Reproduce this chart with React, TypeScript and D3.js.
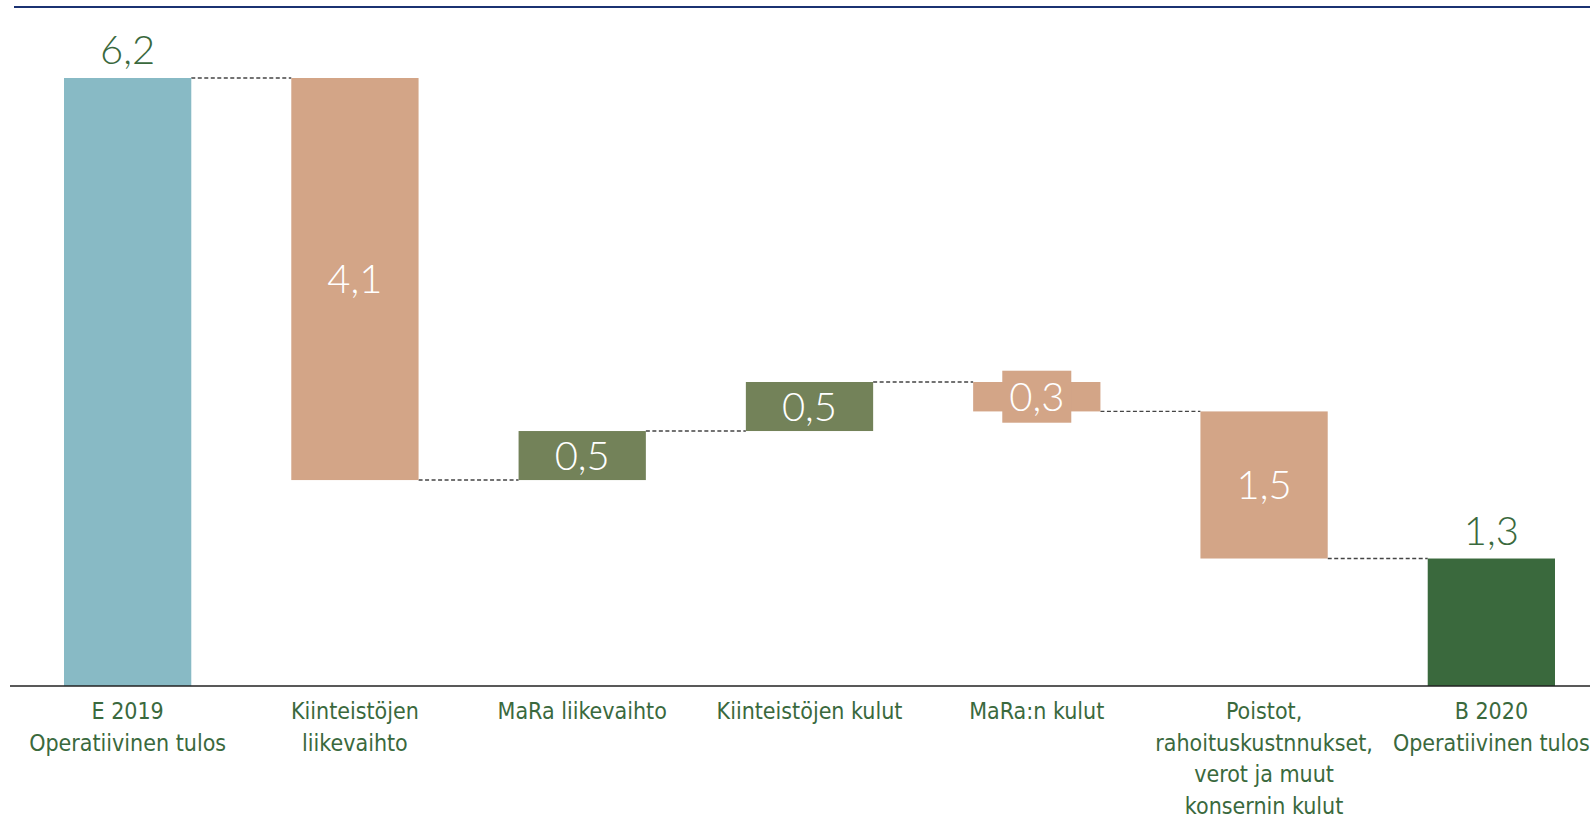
import React from "react";
import * as d3 from "d3";

// Waterfall: operating result bridge from E 2019 to B 2020 (M€)
const categories: string[][] = [
  ["E 2019", "Operatiivinen tulos"],
  ["Kiinteistöjen", "liikevaihto"],
  ["MaRa liikevaihto"],
  ["Kiinteistöjen kulut"],
  ["MaRa:n kulut"],
  ["Poistot,", "rahoituskustnnukset,", "verot ja muut", "konsernin kulut"],
  ["B 2020", "Operatiivinen tulos"],
];
// kind: total bars start from zero, deltas float on the running total
const kinds = ["total", "delta", "delta", "delta", "delta", "delta", "total"];
const values = [6.2, -4.1, 0.5, 0.5, -0.3, -1.5, 1.3];

const W = 1590;
const H = 822;
const AXIS_Y = 686;
const FONT = "'Liberation Sans Narrow', 'DejaVu Sans Condensed', Roboto, sans-serif";
const NUM_FONT = "Lato, 'Open Sans', sans-serif";

const COLORS = {
  start: "#88bac5",
  down: "#d3a587",
  up: "#738259",
  end: "#3a693d",
  text: "#3a693d",
};

export default function App() {
  const x = d3
    .scaleBand<number>()
    .domain(d3.range(categories.length))
    .range([64, 1555])
    .paddingInner(0.44)
    .paddingOuter(0);
  const y = d3.scaleLinear().domain([0, 6.2]).range([AXIS_Y, 78]);

  // running totals
  let run = 0;
  const bars = values.map((v, i) => {
    let lo: number, hi: number, fill: string;
    if (kinds[i] === "total") {
      lo = 0;
      hi = v;
      run = v;
      fill = i === 0 ? COLORS.start : COLORS.end;
    } else {
      const prev = run;
      run = prev + v;
      lo = Math.min(prev, run);
      hi = Math.max(prev, run);
      fill = v < 0 ? COLORS.down : COLORS.up;
    }
    return { i, v, lo, hi, end: run, fill, kind: kinds[i] };
  });

  const fmt = (v: number) => d3.format(".1f")(Math.abs(v)).replace(".", ",");
  const bw = x.bandwidth();

  return (
    <svg width={W} height={H} style={{ position: "absolute", left: 0, top: 0, background: "#fff" }}>
      <line x1={14} x2={W} y1={7} y2={7} stroke="#1b3272" strokeWidth={2.2} />

      {/* connectors */}
      {bars.slice(0, -1).map((b) => (
        <line
          key={"c" + b.i}
          x1={(x(b.i) as number) + bw}
          x2={x(b.i + 1) as number}
          y1={y(b.end)}
          y2={y(b.end)}
          stroke="#444"
          strokeWidth={1.4}
          strokeDasharray="4,2.5"
        />
      ))}

      {bars.map((b) => {
        const x0 = x(b.i) as number;
        const yt = y(b.hi);
        const yb = y(b.lo);
        const h = yb - yt;
        const cx = x0 + bw / 2;
        const small = h < 40;
        return (
          <g key={"b" + b.i}>
            <rect x={x0} y={yt} width={bw} height={h} fill={b.fill} />
            {b.kind === "total" ? (
              <text
                x={cx}
                y={yt - 14}
                textAnchor="middle"
                fill={COLORS.text}
                fontFamily={NUM_FONT}
                fontWeight={300}
                fontSize={40}
              >
                {fmt(b.v)}
              </text>
            ) : (
              <g>
                {small && (
                  <rect x={cx - 34.5} y={(yt + yb) / 2 - 26} width={69} height={52} fill={b.fill} />
                )}
                <text
                  x={cx}
                  y={(yt + yb) / 2}
                  dy="0.36em"
                  textAnchor="middle"
                  fill="#fff"
                  fontFamily={NUM_FONT}
                  fontWeight={300}
                  fontSize={40}
                >
                  {fmt(b.v)}
                </text>
              </g>
            )}
          </g>
        );
      })}

      <line x1={10} x2={W} y1={AXIS_Y} y2={AXIS_Y} stroke="#222" strokeWidth={1.6} />

      {categories.map((lines, i) => (
        <text
          key={"l" + i}
          x={(x(i) as number) + bw / 2}
          y={719}
          textAnchor="middle"
          fill={COLORS.text}
          fontFamily={FONT}
          fontWeight={500}
          fontSize={23}
        >
          {lines.map((t, k) => (
            <tspan key={k} x={(x(i) as number) + bw / 2} dy={k === 0 ? 0 : 31.5}>
              {t}
            </tspan>
          ))}
        </text>
      ))}
    </svg>
  );
}
